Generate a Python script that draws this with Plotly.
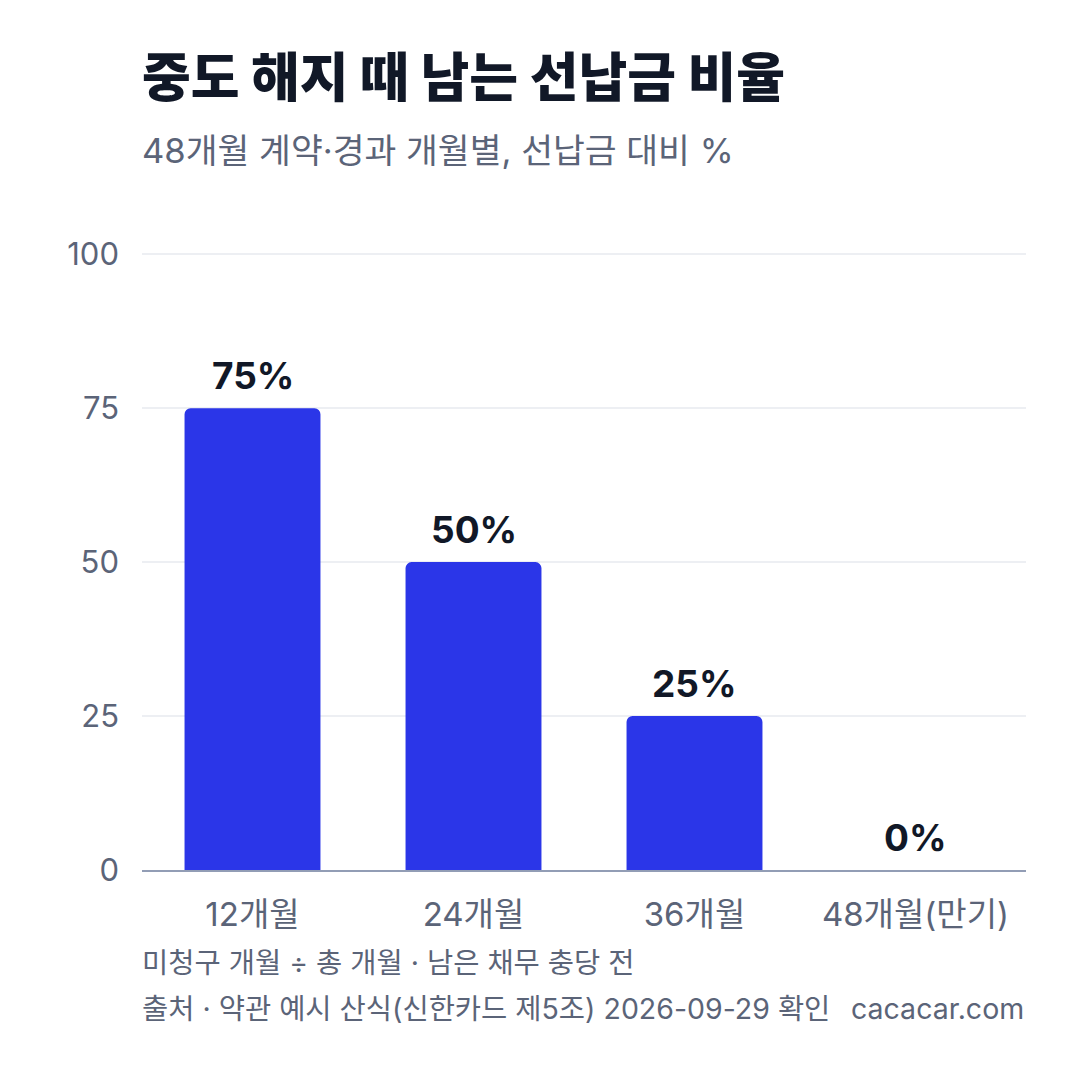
import plotly.graph_objects as go

categories = ["12개월", "24개월", "36개월", "48개월(만기)"]
values = [75, 50, 25, 0]
labels = ["75%", "50%", "25%", "0%"]
y_ticks = [0, 25, 50, 75, 100]

FONT = "Inter, 'Noto Sans CJK KR', sans-serif"

# page has an 8px body offset; plot area target in page pixels: x 142..1026, y 253..870
OFF = 8
PL, PR, PT, PB = 142, 1026, 253, 870
W = H = 1080


def px(xp):
    return (xp - PL) / (PR - PL)


def py(yp):
    return (PB - yp) / (PB - PT)


fig = go.Figure()
fig.add_trace(go.Bar(
    x=categories, y=values,
    marker=dict(color="#2B36E8", cornerradius=6, line=dict(width=0)),
    hoverinfo="skip",
))

for c, v, t in zip(categories, values, labels):
    fig.add_annotation(x=c, y=v, text=t, xref="x", yref="y", showarrow=False,
                       yanchor="middle", yshift=33,
                       font=dict(family=FONT, size=37, color="#111827", weight="bold"))

fig.update_layout(
    width=W, height=H,
    paper_bgcolor="white", plot_bgcolor="white",
    margin=dict(l=PL - OFF, r=W - PR + OFF, t=PT - OFF, b=H - PB + OFF, autoexpand=False),
    bargap=0.385,
    showlegend=False,
    font=dict(family=FONT),
    xaxis=dict(
        showline=True, linecolor="#929DB5", linewidth=2,
        ticks="", tickfont=dict(family=FONT, size=33, color="#5B6478"),
        showgrid=False, automargin=False, ticklabelstandoff=14,
    ),
    yaxis=dict(
        range=[0, 100.2], tickvals=y_ticks,
        showgrid=True, gridcolor="#EDEFF3", gridwidth=1.5,
        zeroline=False, showline=False, automargin=False,
        ticks="", ticklabelstandoff=22,
        tickfont=dict(family=FONT, size=31, color="#5B6478"),
    ),
)

fig.add_annotation(text="중도 해지 때 남는 선납금 비율", xref="paper", yref="paper",
                   x=px(140), y=py(78), xanchor="left", yanchor="middle",
                   showarrow=False, font=dict(family=FONT, size=53, color="#111827", weight=800))
fig.add_annotation(text="48개월 계약·경과 개월별, 선납금 대비 %", xref="paper", yref="paper",
                   x=px(140), y=py(150), xanchor="left", yanchor="middle",
                   showarrow=False, font=dict(family=FONT, size=34.6, color="#5B6478"))
fig.add_annotation(text="미청구 개월 ÷ 총 개월 · 남은 채무 충당 전", xref="paper", yref="paper",
                   x=px(140), y=py(962), xanchor="left", yanchor="middle",
                   showarrow=False, font=dict(family=FONT, size=28.5, color="#5B6478"))
fig.add_annotation(text="출처 · 약관 예시 산식(신한카드 제5조) 2026-09-29 확인", xref="paper", yref="paper",
                   x=px(140), y=py(1008), xanchor="left", yanchor="middle",
                   showarrow=False, font=dict(family=FONT, size=28.5, color="#5B6478"))
fig.add_annotation(text="cacacar.com", xref="paper", yref="paper",
                   x=px(1026), y=py(1008), xanchor="right", yanchor="middle",
                   showarrow=False, font=dict(family=FONT, size=28.5, color="#5B6478"))

fig.write_html("out.html")
